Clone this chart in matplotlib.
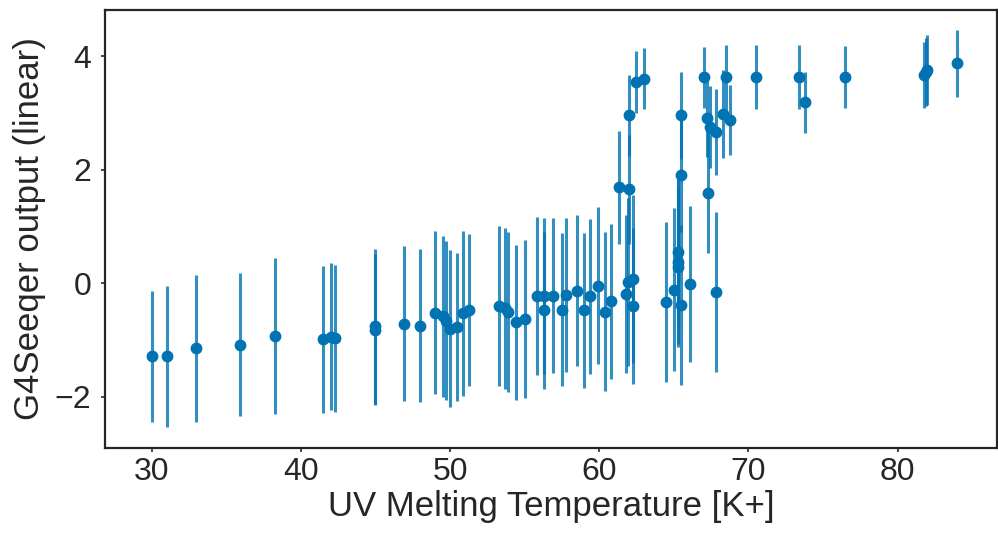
import matplotlib
matplotlib.use("Agg")
import matplotlib.pyplot as plt

temperature = [30.0, 31.0, 33.0, 35.9, 38.3, 41.5, 42.0, 42.3, 45.0, 45.0,
               46.9, 48.0, 49.0, 49.5, 49.7, 50.0, 50.5, 50.9, 51.3, 53.3,
               53.7, 53.9, 54.4, 55.0, 55.8, 56.3, 56.3, 56.9, 57.5, 57.8,
               58.5, 59.0, 59.4, 59.9, 60.4, 60.8, 61.3, 61.8, 62.0, 62.0,
               61.9, 62.3, 62.3, 62.5, 63.0, 64.5, 65.0, 65.3, 65.3, 65.3,
               65.5, 65.5, 65.5, 66.1, 67.0, 67.2, 67.3, 67.4, 67.8, 67.8,
               68.3, 68.5, 68.8, 70.5, 73.4, 73.8, 76.5, 81.8, 81.9, 82.0,
               84.0]
output = [-1.29, -1.29, -1.15, -1.08, -0.93, -0.99, -0.94, -0.97, -0.76, -0.82,
          -0.71, -0.75, -0.52, -0.58, -0.66, -0.80, -0.77, -0.53, -0.47, -0.40,
          -0.44, -0.50, -0.69, -0.63, -0.22, -0.22, -0.48, -0.22, -0.47, -0.20,
          -0.13, -0.48, -0.23, -0.04, -0.50, -0.32, 1.69, -0.19, 2.96, 1.66,
          0.02, 0.07, -0.40, 3.55, 3.61, -0.33, -0.11, 0.55, 0.38, 0.28,
          2.96, 1.91, -0.39, -0.01, 3.63, 2.92, 1.60, 2.76, 2.67, -0.15,
          2.99, 3.63, 2.88, 3.64, 3.64, 3.19, 3.64, 3.68, 3.72, 3.76,
          3.88]
error = [1.16, 1.25, 1.29, 1.26, 1.38, 1.30, 1.29, 1.30, 1.37, 1.33,
         1.37, 1.35, 1.44, 1.42, 1.40, 1.39, 1.30, 1.46, 1.34, 1.41,
         1.42, 1.41, 1.37, 1.40, 1.39, 1.38, 1.39, 1.37, 1.35, 1.36,
         1.33, 1.37, 1.37, 1.39, 1.40, 1.36, 0.99, 1.39, 0.72, 0.96,
         1.48, 1.48, 1.38, 0.54, 0.54, 1.41, 1.43, 1.30, 1.45, 1.40,
         0.77, 1.00, 1.41, 1.37, 0.54, 0.70, 1.07, 0.72, 0.76, 1.41,
         0.78, 0.57, 0.62, 0.57, 0.57, 0.54, 0.55, 0.58, 0.60, 0.62,
         0.59]

x_label = "UV Melting Temperature [K+]"
y_label = "G4Seeqer output (linear)"
x_ticks = [30, 40, 50, 60, 70, 80]
y_ticks = [-2, 0, 2, 4]

plt.rcParams['font.family'] = ['Liberation Sans', 'DejaVu Sans']
dark = '#262626'
blue = '#0173b2'

fig = plt.figure(figsize=(9.98, 5.36), dpi=100)
ax = fig.add_axes([105 / 998, 1 - 447.7 / 536, (997 - 105) / 998, (447.7 - 10) / 536])

ax.errorbar(temperature, output, yerr=error, fmt='none', ecolor=blue,
            elinewidth=2.2, alpha=0.8, capsize=0)
ax.plot(temperature, output, 'o', color=blue, markersize=7.5, linestyle='none')

ax.set_xlim(26.87, 86.67)
ax.set_ylim(-2.90, 4.82)
ax.set_xticks(x_ticks)
ax.set_yticks(y_ticks)
ax.set_yticklabels(['\u22122', '0', '2', '4'])
ax.tick_params(axis='both', labelsize=23, colors=dark, length=3, width=1.2,
               direction='out')
ax.tick_params(axis='x', pad=4)
ax.tick_params(axis='y', pad=7)
ax.set_xlabel(x_label, fontsize=25, color=dark, labelpad=2)
ax.set_ylabel(y_label, fontsize=25, color=dark, labelpad=6)
for s in ax.spines.values():
    s.set_color(dark)
    s.set_linewidth(1.6)

fig.savefig("out.png", dpi=100)
